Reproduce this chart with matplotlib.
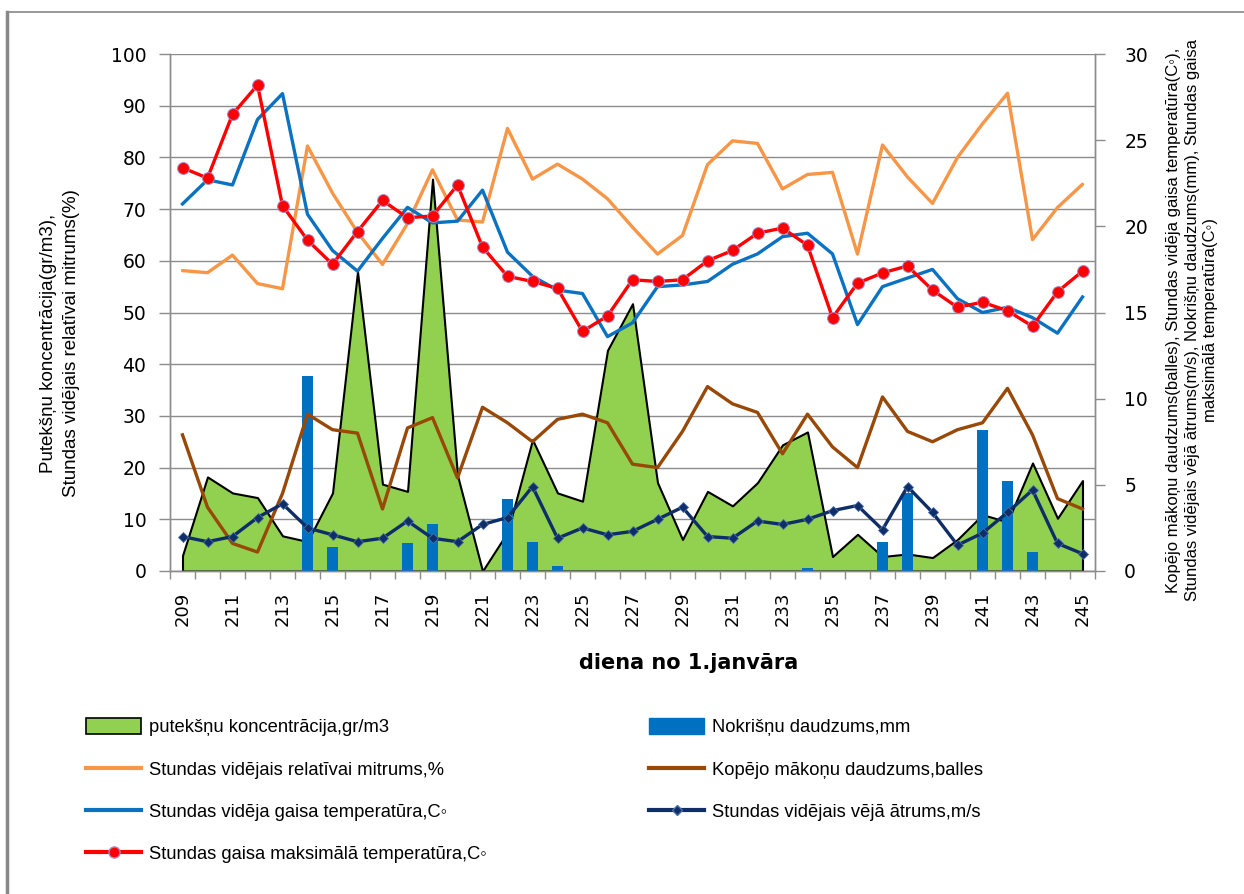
import matplotlib
matplotlib.use("Agg")
import matplotlib.pyplot as plt
from matplotlib.lines import Line2D
from matplotlib.patches import Patch
from matplotlib import font_manager

days = list(range(209, 246))
pollen = [3.0, 18.2, 15.1, 14.2, 6.8, 5.7, 15.1, 57.9, 16.8, 15.4, 75.8, 18.5, 0.0,
          7.5, 25.4, 15.1, 13.5, 42.7, 51.7, 17.1, 6.1, 15.4, 12.6, 17.1, 24.4, 26.9,
          2.8, 7.1, 2.8, 3.3, 2.6, 6.1, 10.9, 9.5, 20.9, 10.2, 17.5]
humidity = [58.1, 57.7, 61.1, 55.6, 54.6, 82.2, 73.1, 65.5, 59.3, 67.2, 77.6, 67.9, 67.5,
            85.6, 75.8, 78.7, 75.8, 72.0, 66.5, 61.3, 64.9, 78.6, 83.2, 82.7, 73.9, 76.7,
            77.1, 61.3, 82.4, 76.2, 71.1, 80.0, 86.5, 92.4, 64.1, 70.3, 74.8]
precip = [0, 0, 0, 0, 0, 11.3, 1.4, 0, 0, 1.6, 2.7, 0, 0,
          4.2, 1.7, 0.3, 0, 0, 0, 0, 0, 0, 0, 0, 0, 0.17,
          0, 0, 1.7, 4.5, 0, 0, 8.2, 5.2, 1.1, 0, 0]
clouds = [7.9, 3.7, 1.6, 1.1, 4.5, 9.1, 8.2, 8.0, 3.6, 8.3, 8.9, 5.4, 9.5,
          8.6, 7.5, 8.8, 9.1, 8.6, 6.2, 6.0, 8.1, 10.7, 9.7, 9.2, 6.8, 9.1,
          7.2, 6.0, 10.1, 8.1, 7.5, 8.2, 8.6, 10.6, 7.9, 4.2, 3.6]
temp = [21.3, 22.7, 22.4, 26.2, 27.7, 20.7, 18.6, 17.4, 19.3, 21.1, 20.2, 20.3, 22.1,
        18.5, 17.1, 16.3, 16.1, 13.6, 14.4, 16.5, 16.6, 16.8, 17.8, 18.4, 19.4, 19.6,
        18.4, 14.3, 16.5, 17.0, 17.5, 15.8, 15.0, 15.3, 14.7, 13.8, 15.9]
wind = [2.0, 1.7, 2.0, 3.1, 3.9, 2.5, 2.1, 1.7, 1.9, 2.9, 1.9, 1.7, 2.7,
        3.1, 4.9, 1.9, 2.5, 2.1, 2.3, 3.0, 3.7, 2.0, 1.9, 2.9, 2.7, 3.0,
        3.5, 3.8, 2.4, 4.9, 3.4, 1.5, 2.2, 3.4, 4.7, 1.6, 1.0]
tmax = [23.4, 22.8, 26.5, 28.2, 21.2, 19.2, 17.8, 19.7, 21.5, 20.5, 20.6, 22.4, 18.8,
        17.1, 16.8, 16.4, 13.9, 14.8, 16.9, 16.8, 16.9, 18.0, 18.6, 19.6, 19.9, 18.9,
        14.7, 16.7, 17.3, 17.7, 16.3, 15.3, 15.6, 15.1, 14.2, 16.2, 17.4]

left_ticks = list(range(0, 101, 10))
right_ticks = list(range(0, 31, 5))
xtick_days = list(range(209, 246, 2))

lbl_pollen = "putekšņu koncentrācija,gr/m3"
lbl_precip = "Nokrišņu daudzums,mm"
lbl_hum = "Stundas vidējais relatīvai mitrums,%"
lbl_clouds = "Kopējo mākoņu daudzums,balles"
lbl_temp = "Stundas vidēja gaisa temperatūra,C◦"
lbl_wind = "Stundas vidējais vējā ātrums,m/s"
lbl_tmax = "Stundas gaisa maksimālā temperatūra,C◦"
ylabel_left = "Putekšņu koncentrācija(gr/m3),\nStundas vidējais relatīvai mitrums(%)"
ylabel_right = ("Kopējo mākoņu daudzums(balles), Stundas vidēja gaisa temperatūra(C◦),\n"
                "Stundas vidējais vējā ātrums(m/s), Nokrišņu daudzums(mm), Stundas gaisa\n"
                "maksimālā temperatūra(C◦)")
xlabel = "diena no 1.janvāra"

avail = {f.name for f in font_manager.fontManager.ttflist}
txt_font = [f for f in ["Liberation Sans", "DejaVu Sans"] if f in avail] + ["DejaVu Sans"]
tick_font = ["DejaVu Sans"]

C_GREEN = "#92D050"
C_BAR = "#0070C0"
C_ORANGE = "#F79646"
C_BROWN = "#984807"
C_BLUE = "#0A72C0"
C_NAVY = "#0F2D66"
C_RED = "#FF0000"
GRID = "#8C8C8C"

fig = plt.figure(figsize=(12.44, 8.94), dpi=100)
ax = fig.add_axes([170/1244, 1-571/894, (1095-170)/1244, (571-54)/894])
ax2 = ax.twinx()

ax.fill_between(days, pollen, 0, facecolor=C_GREEN, edgecolor="black", linewidth=1.5, zorder=2)
ax.plot(days, humidity, color=C_ORANGE, lw=2.4, zorder=3, solid_capstyle="round")

ax2.bar(days, precip, width=0.42, color=C_BAR, zorder=1)
ax2.plot(days, clouds, color=C_BROWN, lw=2.4, zorder=2)
ax2.plot(days, temp, color=C_BLUE, lw=2.4, zorder=3)
ax2.plot(days, wind, color=C_NAVY, lw=2.4, marker="D", ms=5.5, mfc=C_NAVY,
         mec="#4a6fa8", mew=0.6, zorder=4)
ax2.plot(days, tmax, color=C_RED, lw=2.4, marker="o", ms=8.5, mfc=C_RED,
         mec="#a08cc8", mew=0.7, zorder=5)

for a in (ax, ax2):
    a.set_xlim(208.5, 245.5)
ax.set_ylim(0, 100)
ax2.set_ylim(0, 30)

ax.set_yticks(left_ticks)
ax.yaxis.grid(True, color=GRID, lw=1.0)
ax.set_axisbelow(True)
ax2.set_yticks(right_ticks)

ax.set_xticks(xtick_days)
ax.set_xticklabels([str(d) for d in xtick_days], rotation=90, family=tick_font, fontsize=13)
ax.set_xticks([d + 0.5 for d in range(208, 246)], minor=True)
ax.tick_params(axis="x", which="major", length=0, pad=15)
ax.tick_params(axis="x", which="minor", length=6, color=GRID, width=1)
ax.tick_params(axis="y", length=8, color=GRID, width=1, pad=9, labelsize=13.5)
ax2.tick_params(axis="y", length=7, color=GRID, width=1, pad=14, labelsize=13.5)
for lab in ax.get_yticklabels() + ax2.get_yticklabels():
    lab.set_family(tick_font)
ax2.tick_params(axis="x", which="both", length=0)

for a in (ax, ax2):
    a.spines["top"].set_visible(False)
    for s in ("left", "right", "bottom"):
        a.spines[s].set_color(GRID)
        a.spines[s].set_linewidth(1.0)

fig.text(689/1244, 1-663/894, xlabel, ha="center", va="center", fontsize=15,
         fontweight="bold", family=tick_font)
fig.text(60/1244, 1-343/894, ylabel_left, rotation=90, ha="center", va="center",
         fontsize=13.5, family=txt_font, linespacing=1.4)
fig.text(1192/1244, 1-320/894, ylabel_right, rotation=90, ha="center", va="center",
         fontsize=12.0, family=txt_font, linespacing=1.3)

h_pollen = Patch(facecolor=C_GREEN, edgecolor="black", linewidth=1.2)
h_precip = Patch(facecolor=C_BAR, edgecolor=C_BAR)
h_hum = Line2D([], [], color=C_ORANGE, lw=3)
h_clouds = Line2D([], [], color=C_BROWN, lw=3)
h_temp = Line2D([], [], color=C_BLUE, lw=3)
h_wind = Line2D([], [], color=C_NAVY, lw=3, marker="D", ms=5, mec="#4a6fa8")
h_tmax = Line2D([], [], color=C_RED, lw=3, marker="o", ms=8, mec="#a08cc8")

leg = fig.legend([h_pollen, h_hum, h_temp, h_tmax, h_precip, h_clouds, h_wind],
                 [lbl_pollen, lbl_hum, lbl_temp, lbl_tmax, lbl_precip, lbl_clouds, lbl_wind],
                 ncol=2, loc="upper left", bbox_to_anchor=(86/1244, 1-718/894),
                 frameon=False, prop={"family": txt_font, "size": 13.2},
                 handlelength=3.0, handleheight=1.0, handletextpad=0.45,
                 columnspacing=8.85, labelspacing=1.3, borderaxespad=0, borderpad=0)

# outer chart frame
fig.add_artist(Line2D([7/1244, 7/1244], [0, 1-12/894], transform=fig.transFigure,
                      color="#888888", lw=2.5))
fig.add_artist(Line2D([7/1244, 1], [1-12/894, 1-12/894], transform=fig.transFigure,
                      color="#888888", lw=1.2))

fig.savefig("out.png", dpi=100)
